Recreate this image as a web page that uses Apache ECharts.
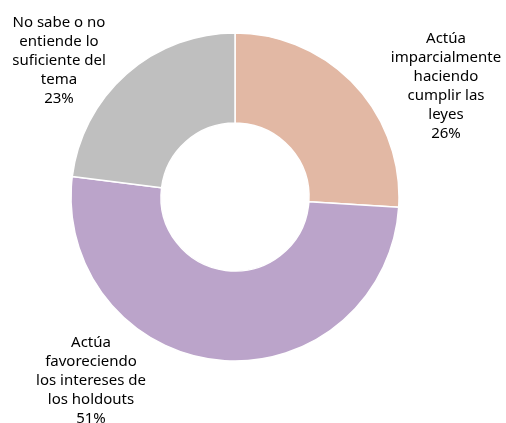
<!DOCTYPE html>
<html>
<head>
<meta charset="utf-8">
<script src="https://cdn.jsdelivr.net/npm/echarts@6/dist/echarts.min.js"></script>
<style>
  html, body { margin: 0; padding: 0; background: #fff; }
  #chart { width: 506px; height: 423px; }
</style>
</head>
<body>
<div id="chart"></div>
<script>
// categories and values
var categories = [
  'Actúa\nimparcialmente\nhaciendo\ncumplir las\nleyes',
  'Actúa\nfavoreciendo\nlos intereses de\nlos holdouts',
  'No sabe o no\nentiende lo\nsuficiente del\ntema'
]
var values = [26, 51, 23]
var colors = ['#e2b8a4', '#bba4ca', '#bfbfbf']

// where each label block sits (centre x, top y)
var labelPos = [[446, 29], [91, 333], [59, 13]]

var chart = echarts.init(document.getElementById('chart'))

chart.setOption({
  animation: false,
  series: [{
    type: 'pie',
    center: [235, 197],
    radius: [74, 164],
    startAngle: 90,
    clockwise: true,
    avoidLabelOverlap: false,
    itemStyle: { borderColor: '#fff', borderWidth: 1.5 },
    label: {
      show: true,
      position: 'outside',
      formatter: '{b}\n{d}%',
      color: '#000',
      fontFamily: 'Noto Sans',
      fontSize: 15,
      lineHeight: 19,
      align: 'center',
      overflow: 'none',
      edgeDistance: 0
    },
    labelLine: { show: false },
    labelLayout: function (params) {
      var p = labelPos[params.dataIndex]
      return { x: p[0], y: p[1], align: 'center', verticalAlign: 'top' }
    },
    emphasis: { disabled: true },
    data: categories.map(function (c, i) {
      return { name: c, value: values[i], itemStyle: { color: colors[i] } }
    })
  }]
})
</script>
</body>
</html>
